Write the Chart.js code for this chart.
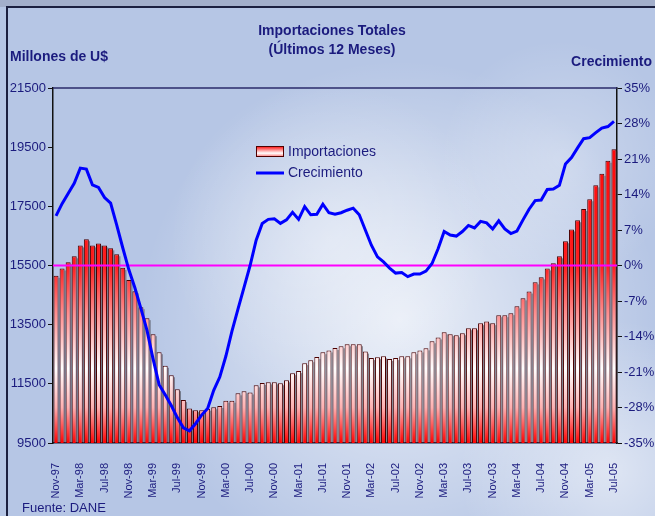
<!DOCTYPE html>
<html><head><meta charset="utf-8">
<script src="https://cdn.jsdelivr.net/npm/chart.js@4.4.1/dist/chart.umd.min.js"></script>
<style>html,body{margin:0;padding:0;background:#b7c7e6;} canvas{display:block}</style>
</head><body>
<canvas id="c" width="655" height="516"></canvas>
<script>
const categories = [
'Nov-97','Dic-97',
'Ene-98','Feb-98','Mar-98','Abr-98','May-98','Jun-98','Jul-98','Ago-98','Sep-98','Oct-98','Nov-98','Dic-98',
'Ene-99','Feb-99','Mar-99','Abr-99','May-99','Jun-99','Jul-99','Ago-99','Sep-99','Oct-99','Nov-99','Dic-99',
'Ene-00','Feb-00','Mar-00','Abr-00','May-00','Jun-00','Jul-00','Ago-00','Sep-00','Oct-00','Nov-00','Dic-00',
'Ene-01','Feb-01','Mar-01','Abr-01','May-01','Jun-01','Jul-01','Ago-01','Sep-01','Oct-01','Nov-01','Dic-01',
'Ene-02','Feb-02','Mar-02','Abr-02','May-02','Jun-02','Jul-02','Ago-02','Sep-02','Oct-02','Nov-02','Dic-02',
'Ene-03','Feb-03','Mar-03','Abr-03','May-03','Jun-03','Jul-03','Ago-03','Sep-03','Oct-03','Nov-03','Dic-03',
'Ene-04','Feb-04','Mar-04','Abr-04','May-04','Jun-04','Jul-04','Ago-04','Sep-04','Oct-04','Nov-04','Dic-04',
'Ene-05','Feb-05','Mar-05','Abr-05','May-05','Jun-05','Jul-05'];

const importaciones = [
15150,15400,15610,15810,16180,16390,16180,16240,16180,16080,
15880,15420,15010,14630,14090,13720,13180,12570,12110,11790,
11320,10950,10670,10610,10610,10660,10710,10750,10930,10930,
11180,11250,11210,11450,11530,11550,11550,11520,11620,11860,
11930,12200,12300,12410,12570,12630,12710,12770,12840,12840,
12840,12590,12370,12400,12430,12340,12370,12430,12430,12570,
12630,12700,12940,13070,13240,13180,13140,13210,13380,13380,
13550,13610,13550,13820,13820,13890,14120,14390,14620,14930,
15100,15400,15580,15810,16320,16720,17030,17410,17740,18210,
18600,19040,19430];

const crecimiento = [
9.8,12.2,14.2,16.2,19.2,19.0,15.9,15.4,13.4,12.3,
8.0,3.5,-0.8,-4.4,-8.5,-12.8,-18.4,-23.5,-25.5,-27.6,
-30.0,-32.0,-32.6,-31.2,-29.5,-28.2,-24.6,-22.0,-17.9,-13.0,
-8.6,-4.3,0.0,5.0,8.3,9.1,9.2,8.3,9.0,10.5,
9.1,11.6,10.0,10.1,12.1,10.4,10.1,10.4,10.9,11.3,
10.0,7.0,4.0,1.7,0.7,-0.5,-1.5,-1.4,-2.2,-1.7,
-1.7,-1.1,0.4,3.3,6.7,6.0,5.8,6.7,7.9,7.4,
8.7,8.4,7.2,8.8,7.2,6.3,6.8,9.0,11.1,12.8,
12.9,15.0,15.1,15.8,20.0,21.3,23.2,25.0,25.2,26.2,
27.1,27.4,28.4];

const leftTicks = [9500, 11500, 13500, 15500, 17500, 19500, 21500];
const rightTicks = [-35, -28, -21, -14, -7, 0, 7, 14, 21, 28, 35];
const titleLines = ['Importaciones Totales', '(Últimos 12 Meses)'];
const leftAxisTitle = 'Millones de U$';
const rightAxisTitle = 'Crecimiento';
const sourceText = 'Fuente: DANE';
const seriesNames = ['Importaciones', 'Crecimiento'];
const zeroLineValue = 0;

const NAVY = '#1b1b7e';
const FONT = "'Liberation Sans', Arial, sans-serif";

let barGrad = null;
function getBarGradient(chart) {
  const a = chart.chartArea;
  if (!a) return '#ff0000';
  if (barGrad && barGrad._t === a.top && barGrad._b === a.bottom) return barGrad;
  const g = chart.ctx.createLinearGradient(0, a.top, 0, a.bottom);
  g.addColorStop(0, '#ff0000');
  g.addColorStop(0.5, '#ff1c1c');
  g.addColorStop(0.63, '#ff8a8a');
  g.addColorStop(0.79, '#ffffff');
  g.addColorStop(0.9, '#ffb0b0');
  g.addColorStop(1, '#ff0000');
  g._t = a.top; g._b = a.bottom;
  barGrad = g;
  return g;
}

const bgPlugin = {
  id: 'bg',
  beforeDraw(chart) {
    const ctx = chart.ctx, W = chart.width, H = chart.height;
    ctx.save();
    ctx.fillStyle = '#b6c6e5';
    ctx.fillRect(0, 0, W, H);
    function blob(x, y, r, a) {
      const g = ctx.createRadialGradient(x, y, 0, x, y, r);
      g.addColorStop(0, 'rgba(255,255,255,' + a + ')');
      g.addColorStop(1, 'rgba(255,255,255,0)');
      ctx.fillStyle = g;
      ctx.fillRect(0, 0, W, H);
    }
    blob(400, 320, 260, 0.7);
    blob(330, 240, 160, 0.35);
    blob(610, 470, 150, 0.55);
    blob(560, 160, 120, 0.3);
    ctx.fillStyle = '#a3afcb';
    ctx.fillRect(0, 0, W, 7);
    ctx.fillStyle = '#1c2040';
    ctx.fillRect(6, 6, W - 6, 2);
    ctx.fillRect(6, 6, 2, H - 6);
    ctx.restore();
  },
  beforeDatasetDraw(chart, args) {
    if (args.index !== 1) return;
    const ctx = chart.ctx, a = chart.chartArea;
    ctx.save();
    ctx.fillStyle = 'rgba(70,70,80,0.6)';
    args.meta.data.forEach(el => {
      const p = el.getProps(['x', 'y', 'base', 'width'], true);
      const bottom = Math.min(p.base, a.bottom);
      ctx.fillRect(p.x + p.width / 2, p.y + 2, 1.2, bottom - p.y - 2);
    });
    ctx.restore();
  },
  afterDatasetDraw(chart, args) {
    if (args.index !== 1) return;
    const ctx = chart.ctx, a = chart.chartArea;
    const y = chart.scales.y1.getPixelForValue(zeroLineValue);
    ctx.save();
    ctx.strokeStyle = '#ff00ff';
    ctx.lineWidth = 2;
    ctx.beginPath();
    ctx.moveTo(a.left, y);
    ctx.lineTo(a.right, y);
    ctx.stroke();
    ctx.restore();
  },
  afterDraw(chart) {
    const ctx = chart.ctx, a = chart.chartArea;
    ctx.save();
    ctx.strokeStyle = '#2a2a6a';
    ctx.lineWidth = 1.5;
    ctx.beginPath();
    ctx.moveTo(a.left, a.top);
    ctx.lineTo(a.right, a.top);
    ctx.stroke();
    ctx.fillStyle = NAVY;
    ctx.textBaseline = 'middle';
    ctx.textAlign = 'center';
    ctx.font = 'bold 14px ' + FONT;
    ctx.fillText(titleLines[0], 332, 31);
    ctx.fillText(titleLines[1], 332, 50);
    ctx.textAlign = 'left';
    ctx.fillText(leftAxisTitle, 10, 57);
    ctx.textAlign = 'right';
    ctx.fillText(rightAxisTitle, 652, 62);
    ctx.textAlign = 'left';
    ctx.font = '13px ' + FONT;
    ctx.fillText(sourceText, 22, 508);
    const lx = 256, ly1 = 152, ly2 = 173;
    const lg = ctx.createLinearGradient(0, ly1 - 6, 0, ly1 + 6);
    lg.addColorStop(0, '#ff0000');
    lg.addColorStop(0.6, '#ffffff');
    lg.addColorStop(1, '#ff4040');
    ctx.fillStyle = lg;
    ctx.fillRect(lx, ly1 - 6, 28, 11);
    ctx.strokeStyle = '#500000';
    ctx.lineWidth = 1;
    ctx.strokeRect(lx + 0.5, ly1 - 5.5, 27, 10);
    ctx.strokeStyle = '#0000ff';
    ctx.lineWidth = 3;
    ctx.beginPath();
    ctx.moveTo(lx, ly2);
    ctx.lineTo(lx + 28, ly2);
    ctx.stroke();
    ctx.fillStyle = NAVY;
    ctx.font = '14px ' + FONT;
    ctx.fillText(seriesNames[0], 288, ly1);
    ctx.fillText(seriesNames[1], 288, ly2);
    ctx.restore();
  }
};

new Chart(document.getElementById('c'), {
  type: 'bar',
  data: {
    labels: categories,
    datasets: [
      {
        type: 'line',
        label: seriesNames[1],
        data: crecimiento,
        yAxisID: 'y1',
        borderColor: '#0000ff',
        borderWidth: 3,
        pointRadius: 0,
        tension: 0,
        fill: false
      },
      {
        type: 'bar',
        label: seriesNames[0],
        data: importaciones,
        yAxisID: 'y',
        backgroundColor: ctx => getBarGradient(ctx.chart),
        borderColor: '#4a0000',
        borderWidth: 1,
        borderSkipped: 'bottom',
        barPercentage: 0.82,
        categoryPercentage: 1.0
      }
    ]
  },
  options: {
    responsive: false,
    animation: false,
    layout: { padding: { top: 88, left: 0, right: 0, bottom: 0 } },
    plugins: { legend: { display: false }, tooltip: { enabled: false }, title: { display: false } },
    scales: {
      x: {
        offset: true,
        grid: { display: false },
        border: { display: true, color: '#1a1a3a', width: 1.5 },
        ticks: {
          autoSkip: false, maxRotation: 90, minRotation: 90, padding: 12,
          color: NAVY, font: { family: FONT, size: 11 },
          callback: (v, i) => (i % 4 === 0 ? categories[i] : '')
        },
        afterFit: s => { s.height = 73; }
      },
      y: {
        position: 'left',
        min: leftTicks[0], max: leftTicks[leftTicks.length - 1],
        afterBuildTicks: s => { s.ticks = leftTicks.map(v => ({ value: v })); },
        grid: { drawOnChartArea: false, drawTicks: true, tickLength: 5, color: '#111' },
        border: { display: true, color: '#111', width: 1.5 },
        ticks: { padding: 2, color: NAVY, font: { family: FONT, size: 13 }, callback: v => String(v) },
        afterFit: s => { s.width = 53; }
      },
      y1: {
        position: 'right',
        min: rightTicks[0], max: rightTicks[rightTicks.length - 1],
        afterBuildTicks: s => { s.ticks = rightTicks.map(v => ({ value: v })); },
        grid: { drawOnChartArea: false, drawTicks: true, tickLength: 5, color: '#111' },
        border: { display: true, color: '#111', width: 1.5 },
        ticks: { padding: 2, color: NAVY, font: { family: FONT, size: 13 }, callback: v => v + '%' },
        afterFit: s => { s.width = 38; }
      }
    }
  },
  plugins: [bgPlugin]
});
</script>
</body></html>
